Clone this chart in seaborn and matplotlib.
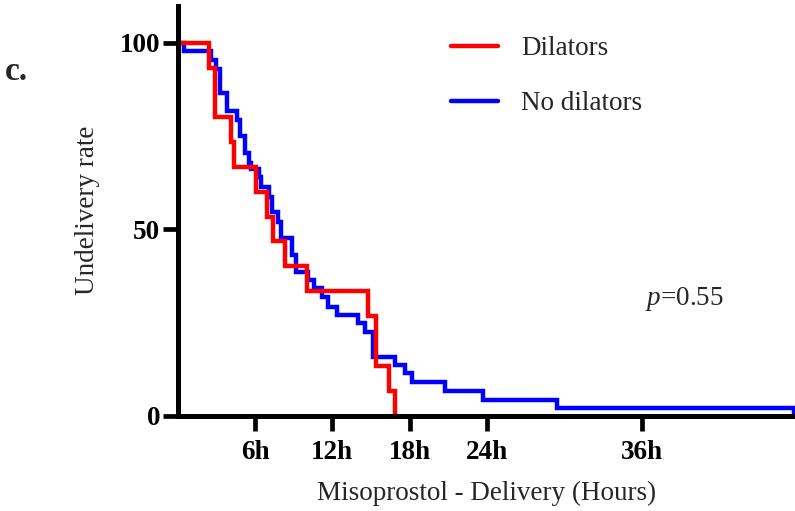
import matplotlib
matplotlib.use("Agg")
import matplotlib.pyplot as plt
from matplotlib.lines import Line2D
import seaborn as sns
import pandas as pd

# ---- data (Kaplan-Meier style step curves) ----
group_names = ["Dilators", "No dilators"]
group_colors = ["#ff0000", "#0000ff"]

dil_hours = [0, 2.45, 2.9, 4.1, 4.35, 6.1, 6.9, 7.4, 8.3, 10.0, 14.75, 15.4, 16.4, 16.9]
dil_rate = [100, 93.3, 80.0, 73.3, 66.7, 60.0, 53.3, 46.7, 40.0, 33.3, 26.7, 13.3, 6.7, 0]

nodil_hours = [0, 0.5, 2.6, 2.95, 3.3, 3.85, 4.6, 4.8, 5.2, 5.5, 5.65, 6.3, 6.5, 7.1,
               7.3, 7.75, 8.0, 8.85, 9.2, 10.13, 10.57, 11.17, 11.69, 12.33, 14.01,
               14.53, 15.17, 16.86, 17.63, 18.15, 20.74, 23.71, 29.4, 47.8]
nodil_rate = [100, 97.8, 95.3, 92.9, 86.6, 81.6, 79.3, 75.0, 70.4, 67.8, 66.0, 64.0,
              61.3, 58.7, 54.6, 52.0, 47.5, 43.0, 38.5, 36.3, 34.1, 31.7, 29.2, 26.9,
              24.7, 22.5, 15.8, 13.5, 11.3, 9.1, 6.6, 4.2, 1.9, 0]

x_ticks = [6, 12, 18, 24, 36]
x_tick_labels = ["6h", "12h", "18h", "24h", "36h"]
y_ticks = [0, 50, 100]
y_tick_labels = ["0", "50", "100"]
p_text = "=0.55"

# ---- build long-form table ----
df = pd.concat([
    pd.DataFrame({"Hours": dil_hours, "Rate": dil_rate, "Group": group_names[0]}),
    pd.DataFrame({"Hours": nodil_hours, "Rate": nodil_rate, "Group": group_names[1]}),
], ignore_index=True)

sns.set_style("ticks")
plt.rcParams["font.family"] = ["Liberation Serif", "DejaVu Serif"]
plt.rcParams["mathtext.fontset"] = "custom"
plt.rcParams["mathtext.it"] = "Liberation Serif:italic"
plt.rcParams["mathtext.rm"] = "Liberation Serif"

W, H = 795, 511
fig = plt.figure(figsize=(W / 100, H / 100), dpi=100)
x0, y0, ytop = 177.7, 415.5, 6.0
ax = fig.add_axes([x0 / W, (H - y0) / H, 1 - x0 / W, (y0 - ytop) / H])

palette = dict(zip(group_names, group_colors))
sns.lineplot(data=df, x="Hours", y="Rate", hue="Group", hue_order=group_names,
             palette=palette, estimator=None, sort=False, drawstyle="steps-post",
             linewidth=3.2, legend=False, ax=ax)
lines = ax.get_lines()
# red drawn above blue
lines[0].set_zorder(2.3)
lines[1].set_zorder(2.2)
for ln in lines:
    ln.set_solid_joinstyle("miter")

ax.set_xlim(0, 47.9)
ax.set_ylim(0, 109.8)
ax.set_xticks(x_ticks)
ax.set_xticklabels(x_tick_labels)
ax.set_yticks(y_ticks)
ax.set_yticklabels(y_tick_labels)

for side in ["top", "right"]:
    ax.spines[side].set_visible(False)
for side in ["left", "bottom"]:
    ax.spines[side].set_linewidth(3.6)
    ax.spines[side].set_color("black")

ax.tick_params(axis="both", which="major", length=11, width=3.4, color="black",
               direction="out", labelsize=19.5, labelcolor="black")
ax.tick_params(axis="y", pad=1.5)
ax.tick_params(axis="x", pad=6.5)
for lab in ax.get_xticklabels() + ax.get_yticklabels():
    lab.set_fontweight("bold")

ax.set_xlabel("Misoprostol - Delivery (Hours)", fontsize=19.5)
ax.set_ylabel("Undelivery rate", fontsize=19.5)
ax.xaxis.set_label_coords(0.5, -(493 - y0) / (y0 - ytop))
ax.xaxis.label.set_verticalalignment("center")
ax.yaxis.set_label_coords((87.5 - x0) / (W - x0), 0.5)
ax.yaxis.label.set_verticalalignment("center")

handles = [Line2D([], [], color=c, lw=3.2) for c in group_colors]
ax.legend(handles, group_names, loc="upper left",
          bbox_to_anchor=(450.5 / W, 1 - 36.5 / H), bbox_transform=fig.transFigure,
          frameon=False, fontsize=19.5, handlelength=1.75, handletextpad=0.85,
          labelspacing=1.09, borderpad=0, borderaxespad=0)

fig.text(645 / W, 1 - 305 / H, r"$p$" + p_text, fontsize=19.5, ha="left", va="baseline")
fig.text(5 / W, 1 - 80.5 / H, "c.", fontsize=24, fontweight="bold", ha="left", va="baseline")

fig.savefig("out.png", dpi=100)
